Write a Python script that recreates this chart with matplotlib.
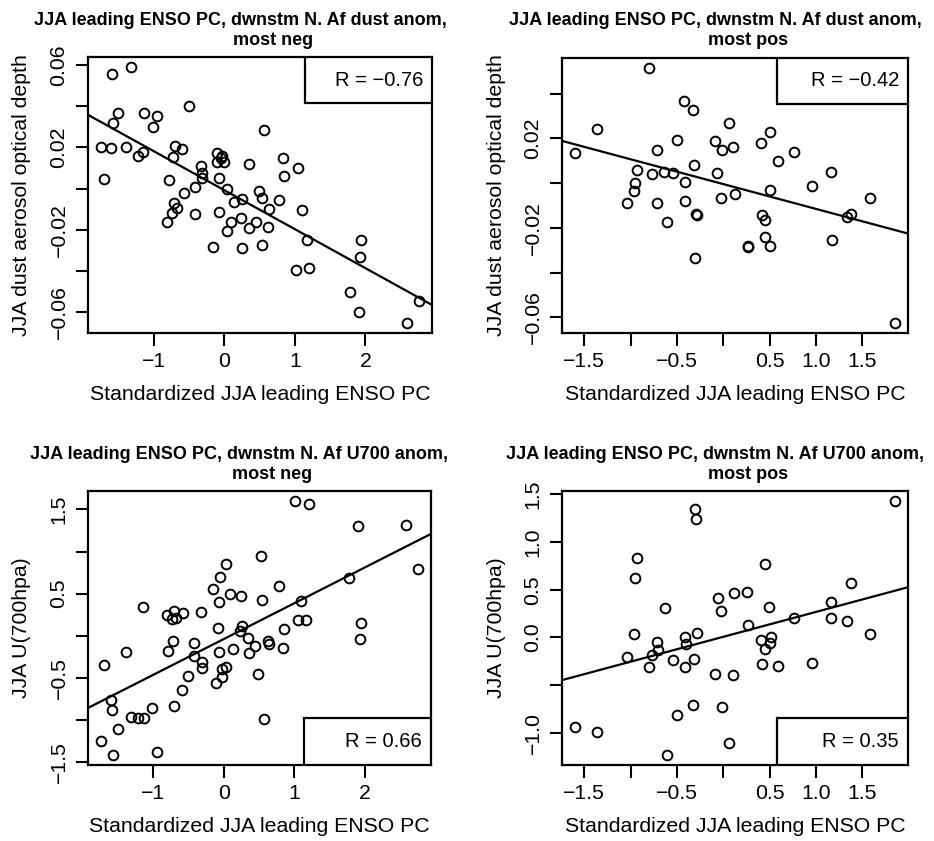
import numpy as np
import matplotlib
matplotlib.use("Agg")
import matplotlib.pyplot as plt
from matplotlib.patches import Rectangle

plt.rcParams['font.family'] = ['Liberation Sans', 'DejaVu Sans']

# ---------------- data ----------------
# Panel 1: dust AOD, most negative region
p1_x = [-1.589, -1.315, -1.504, -1.579, -1.141, -0.952, -1.014, -0.500, -1.749, -1.598,
        -1.396, -1.226, -1.150, -1.707, -0.702, -0.594, -0.726, 0.561, -0.108, -0.038,
        -0.052, -0.099, -0.009, -0.325, -0.316, -0.311, 0.349, 0.839, 1.047, 0.849,
        -0.787, -0.071, -0.420, -0.575, 0.038, 0.490, 0.537, 0.259, 0.132, 0.783,
        0.636, 1.099, -0.712, -0.674, -0.740, -0.811, -0.415, -0.080, 0.094, 0.231,
        0.448, 0.349, 0.627, 0.038, -0.160, 0.250, 0.537, 1.169, 1.014, 1.207,
        1.942, 1.928, 1.782, 1.909, 2.584, 2.763]
p1_y = [0.0557, 0.0589, 0.0366, 0.0320, 0.0369, 0.0351, 0.0301, 0.0401, 0.0202, 0.0199,
        0.0202, 0.0160, 0.0180, 0.0047, 0.0209, 0.0191, 0.0152, 0.0286, 0.0172, 0.0159,
        0.0147, 0.0131, 0.0131, 0.0110, 0.0074, 0.0053, 0.0120, 0.0147, 0.0099, 0.0063,
        0.0042, 0.0052, 0.0006, -0.0019, -0.0003, -0.0013, -0.0047, -0.0049, -0.0063, -0.0055,
        -0.0099, -0.0102, -0.0068, -0.0092, -0.0120, -0.0160, -0.0123, -0.0113, -0.0159, -0.0144,
        -0.0163, -0.0191, -0.0184, -0.0206, -0.0282, -0.0286, -0.0273, -0.0251, -0.0393, -0.0382,
        -0.0251, -0.0332, -0.0503, -0.0597, -0.0650, -0.0542]

# Panel 2: dust AOD, most positive region
p2_x = [-0.802, -0.421, -0.331, -1.367, -1.601, 0.065, 0.507, -0.500, -0.086, -0.712,
        -0.018, 0.101, 0.410, 0.763, 0.590, -0.320, -0.935, -0.770, -0.637, -0.543,
        -0.065, 1.162, -0.957, -0.960, -0.410, -1.040, -0.712, -0.410, -0.029, 0.122,
        0.500, 0.953, 1.579, -0.291, -0.284, -0.604, 0.414, 0.450, 1.335, 1.381,
        0.453, 0.500, 0.263, 0.270, 1.169, -0.302, 1.853]
p2_y = [0.0514, 0.0367, 0.0325, 0.0243, 0.0135, 0.0269, 0.0228, 0.0191, 0.0187, 0.0147,
        0.0147, 0.0160, 0.0179, 0.0139, 0.0097, 0.0080, 0.0057, 0.0039, 0.0051, 0.0047,
        0.0045, 0.0048, 0.0001, -0.0035, 0.0004, -0.0087, -0.0087, -0.0081, -0.0066, -0.0050,
        -0.0031, -0.0011, -0.0066, -0.0138, -0.0141, -0.0172, -0.0144, -0.0166, -0.0150, -0.0136,
        -0.0240, -0.0282, -0.0285, -0.0282, -0.0252, -0.0333, -0.0624]

# Panel 3: U700, most negative region
p3_x = [1.014, 1.207, 1.909, 2.584, 2.763, 1.782, 0.528, 0.038, -0.057, -0.160,
        0.783, 0.094, 0.250, -0.071, 0.537, 1.099, -1.150, -0.811, -0.712, -0.740,
        -0.674, -0.575, -0.325, 1.047, 1.169, 1.942, 1.928, 0.264, 0.231, -0.080,
        0.849, 0.349, -0.726, -0.420, 0.627, 0.636, 0.448, 0.835, 0.132, -0.075,
        0.354, -0.787, -1.396, -1.707, -0.420, -0.311, -0.311, 0.038, -0.028, -0.019,
        -0.104, 0.481, -0.509, -0.594, -0.702, -1.014, -1.320, -1.226, -1.132, -1.598,
        -1.589, -1.504, -1.749, -1.579, -0.952, 0.566]
p3_y = [1.598, 1.559, 1.303, 1.311, 0.787, 0.685, 0.943, 0.852, 0.695, 0.553,
        0.596, 0.498, 0.470, 0.404, 0.419, 0.415, 0.344, 0.250, 0.293, 0.197,
        0.209, 0.268, 0.276, 0.183, 0.191, 0.152, -0.045, 0.120, 0.061, 0.087,
        0.083, -0.033, -0.063, -0.081, -0.057, -0.098, -0.122, -0.142, -0.153, -0.191,
        -0.207, -0.187, -0.199, -0.348, -0.246, -0.317, -0.384, -0.372, -0.396, -0.490,
        -0.561, -0.459, -0.474, -0.643, -0.840, -0.856, -0.966, -0.978, -0.978, -0.762,
        -0.884, -1.112, -1.250, -1.415, -1.376, -0.986]

# Panel 4: U700, most positive region
p4_x = [1.853, -0.309, -0.295, -0.935, -0.957, 0.453, 1.378, -0.061, 0.119, 0.259,
        -0.633, -0.029, 0.496, 1.162, 1.165, 0.763, 1.335, 0.270, 1.579, -0.960,
        -0.288, -0.417, -0.406, -0.716, -0.705, -0.770, -1.040, -0.543, -0.320, -0.802,
        -0.414, 0.410, 0.511, 0.507, 0.446, 0.417, 0.590, 0.953, -0.086, 0.101,
        -0.331, -0.018, -0.500, -1.601, -1.367, 0.065, -0.604]
p4_y = [1.427, 1.347, 1.240, 0.833, 0.625, 0.764, 0.566, 0.417, 0.469, 0.476,
        0.309, 0.274, 0.319, 0.375, 0.205, 0.205, 0.174, 0.132, 0.038, 0.031,
        0.042, 0.000, -0.069, -0.052, -0.135, -0.181, -0.208, -0.236, -0.222, -0.309,
        -0.306, -0.024, 0.007, -0.056, -0.122, -0.274, -0.295, -0.264, -0.382, -0.392,
        -0.708, -0.726, -0.813, -0.934, -0.986, -1.101, -1.229]

r_values = ["R = \u22120.76", "R = \u22120.42", "R = 0.66", "R = 0.35"]

title_line1 = ["JJA leading ENSO PC, dwnstm N. Af dust anom,",
               "JJA leading ENSO PC, dwnstm N. Af dust anom,",
               "JJA leading ENSO PC, dwnstm N. Af U700 anom,",
               "JJA leading ENSO PC, dwnstm N. Af U700 anom,"]
title_line2 = ["most neg", "most pos", "most neg", "most pos"]
xlabel = "Standardized JJA leading ENSO PC"
ylabels = ["JJA dust aerosol optical depth", "JJA dust aerosol optical depth",
           "JJA U(700hpa)", "JJA U(700hpa)"]

xt_a = [-1, 0, 1, 2]
xtl_a = ["\u22121", "0", "1", "2"]
xt_b = [-1.5, -1.0, -0.5, 0.0, 0.5, 1.0, 1.5]
xtl_b = ["\u22121.5", "", "\u22120.5", "", "0.5", "1.0", "1.5"]
yt_1 = [-0.06, -0.04, -0.02, 0.0, 0.02, 0.04, 0.06]
ytl_1 = ["\u22120.06", "", "\u22120.02", "", "0.02", "", "0.06"]
yt_2 = [-0.06, -0.04, -0.02, 0.0, 0.02, 0.04]
ytl_2 = ["\u22120.06", "", "\u22120.02", "", "0.02", ""]
yt_3 = [-1.5, -1.0, -0.5, 0.0, 0.5, 1.0, 1.5]
ytl_3 = ["\u22121.5", "", "\u22120.5", "", "0.5", "", "1.5"]
yt_4 = [-1.0, -0.5, 0.0, 0.5, 1.0, 1.5]
ytl_4 = ["\u22121.0", "", "0.0", "0.5", "1.0", "1.5"]

# ---------------- layout ----------------
W, H = 934, 841
fig = plt.figure(figsize=(W / 100, H / 100), dpi=100)

def add_ax(l, t, r, b):
    return fig.add_axes([l / W, 1 - b / H, (r - l) / W, (b - t) / H])

boxes = [(88, 57, 432, 333), (562, 58, 908, 333),
         (88, 491, 431, 765), (562, 491, 908, 765)]
data = [(p1_x, p1_y), (p2_x, p2_y), (p3_x, p3_y), (p4_x, p4_y)]
xticks = [(xt_a, xtl_a), (xt_b, xtl_b), (xt_a, xtl_a), (xt_b, xtl_b)]
yticks = [(yt_1, ytl_1), (yt_2, ytl_2), (yt_3, ytl_3), (yt_4, ytl_4)]
legend_top = [True, True, False, False]

FS = 15.3
for i in range(4):
    l, t, r, b = boxes[i]
    ax = add_ax(l, t, r, b)
    x = np.array(data[i][0]); y = np.array(data[i][1])
    ax.plot(x, y, 'o', ms=7.0, mfc='none', mec='black', mew=1.4, zorder=3)
    xr = x.max() - x.min(); yr = y.max() - y.min()
    xl = (x.min() - 0.04 * xr, x.max() + 0.04 * xr)
    yl = (y.min() - 0.04 * yr, y.max() + 0.04 * yr)
    ax.set_xlim(xl); ax.set_ylim(yl)
    k, c = np.polyfit(x, y, 1)
    xx = np.array(xl)
    ax.plot(xx, k * xx + c, color='black', lw=1.6, zorder=2)
    ax.set_xticks(xticks[i][0]); ax.set_xticklabels(xticks[i][1])
    ax.set_yticks(yticks[i][0]); ax.set_yticklabels(yticks[i][1], rotation=90, va='center')
    ax.tick_params(direction='out', length=9, width=1.5, labelsize=FS, pad=5)
    for s in ax.spines.values():
        s.set_linewidth(1.6)
    ax.set_xlabel(xlabel, fontsize=FS, labelpad=10)
    ax.set_ylabel(ylabels[i], fontsize=FS, labelpad=13)
    # R-value legend box
    bw = 127 / (r - l) if i % 2 == 0 else 131 / (r - l)
    bh = 46 / (b - t) if legend_top[i] else 47 / (b - t)
    by = 1 - bh if legend_top[i] else 0
    ax.add_patch(Rectangle((1 - bw, by), bw, bh, transform=ax.transAxes,
                           fill=True, fc='white', ec='black', lw=1.6, zorder=4))
    ax.text(1 - 9 / (r - l), by + bh / 2, r_values[i], transform=ax.transAxes,
            ha='right', va='center', fontsize=14.5, zorder=5)
    # title (two lines)
    cx = (l + r) / 2
    off = 0 if i < 2 else 434
    fig.text((cx - 20) / W, 1 - (25 + off) / H, title_line1[i], ha='center',
             va='baseline', fontsize=13, fontweight='bold')
    fig.text((cx + 13) / W, 1 - (45 + off) / H, title_line2[i], ha='center',
             va='baseline', fontsize=13, fontweight='bold')

fig.savefig("out.png", dpi=100)
